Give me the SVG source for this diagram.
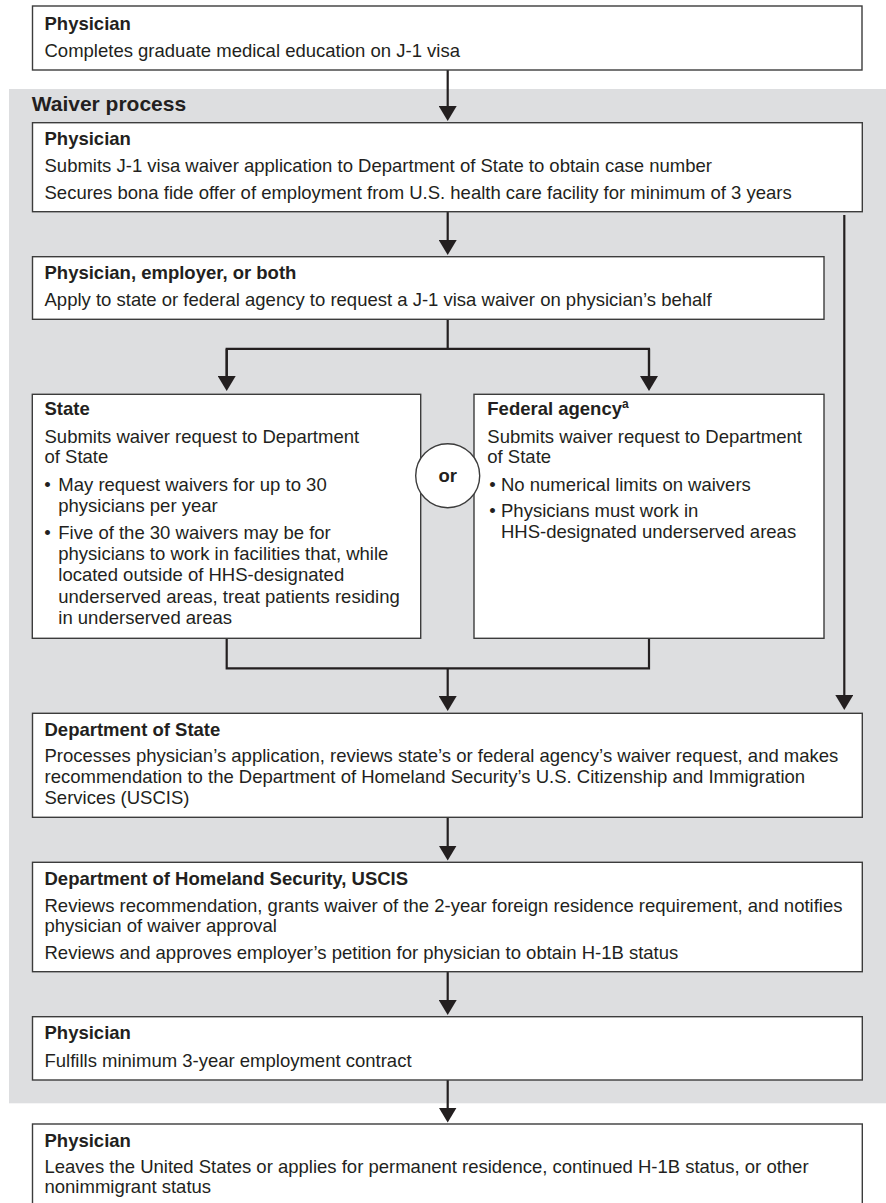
<svg xmlns="http://www.w3.org/2000/svg" width="886" height="1203" viewBox="0 0 886 1203">
<defs>
<style>
.bx{fill:#ffffff;stroke:#3c3c3c;stroke-width:1.4}
.t{font-family:"Liberation Sans",Arial,Helvetica,sans-serif;font-size:18.5px;fill:#231f20}
.b{font-weight:bold}
.h{font-family:"Liberation Sans",Arial,Helvetica,sans-serif;font-size:21px;font-weight:bold;fill:#231f20}
.c{fill:none;stroke:#231f20;stroke-width:2.2}
</style>
<marker id="ah" viewBox="0 0 15 18" refX="10" refY="9" markerWidth="15" markerHeight="18" markerUnits="userSpaceOnUse" orient="auto">
<path d="M0,0 L15,9 L0,18 z" fill="#231f20"/>
</marker>
</defs>
<rect x="0" y="0" width="886" height="1203" fill="#ffffff"/>
<g id="waiver-process">
<rect x="9" y="89" width="877" height="1014.3" fill="#dddee0"/>
<text class="h" x="31.7" y="111">Waiver process</text>
</g>
<g id="connectors">
<path class="c" d="M447.7,70 V116" marker-end="url(#ah)"/>
<path class="c" d="M447.7,211.7 V250" marker-end="url(#ah)"/>
<path class="c" d="M447.7,319.3 V348.8"/>
<path class="c" d="M226.7,386 V348.8 H649 V386"/>
<path class="c" d="M226.7,348.8 V386" marker-end="url(#ah)"/>
<path class="c" d="M649,348.8 V386" marker-end="url(#ah)"/>
<path class="c" d="M226.7,638.3 V668.3 H649 V638.3"/>
<path class="c" d="M447.7,668.3 V706" marker-end="url(#ah)"/>
<path class="c" d="M844.3,215 V705" marker-end="url(#ah)"/>
<path class="c" d="M447.7,817.3 V855.5" marker-end="url(#ah)"/>
<path class="c" d="M447.7,971.7 V1010" marker-end="url(#ah)"/>
<path class="c" d="M447.7,1080 V1117.5" marker-end="url(#ah)"/>
</g>
<g id="n1">
<rect class="bx" x="32.5" y="6" width="829.5" height="64"/>
<text class="t b" x="44.5" y="29.5">Physician</text>
<text class="t" x="44.5" y="56.7">Completes graduate medical education on J-1 visa</text>
</g>
<g id="n2">
<rect class="bx" x="32.5" y="122.7" width="829.8" height="89"/>
<text class="t b" x="44.5" y="145">Physician</text>
<text class="t" x="44.5" y="171.7">Submits J-1 visa waiver application to Department of State to obtain case number</text>
<text class="t" x="44.5" y="199">Secures bona fide offer of employment from U.S. health care facility for minimum of 3 years</text>
</g>
<g id="n3">
<rect class="bx" x="32.5" y="256.7" width="791.5" height="62.6"/>
<text class="t b" x="44.5" y="279">Physician, employer, or both</text>
<text class="t" x="44.5" y="306">Apply to state or federal agency to request a J-1 visa waiver on physician’s behalf</text>
</g>
<g id="state">
<rect class="bx" x="32.3" y="394.3" width="388.4" height="244"/>
<text class="t b" x="44.5" y="415">State</text>
<text class="t" x="44.5" y="442.7">Submits waiver request to Department</text>
<text class="t" x="44.5" y="463.3">of State</text>
<text class="t" x="44.3" y="490.7">•</text>
<text class="t" x="58.3" y="490.7">May request waivers for up to 30</text>
<text class="t" x="58.3" y="511.7">physicians per year</text>
<text class="t" x="44.3" y="539.3">•</text>
<text class="t" x="58.3" y="539.3">Five of the 30 waivers may be for</text>
<text class="t" x="58.3" y="560">physicians to work in facilities that, while</text>
<text class="t" x="58.3" y="581.3">located outside of HHS-designated</text>
<text class="t" x="58.3" y="602.7">underserved areas, treat patients residing</text>
<text class="t" x="58.3" y="624">in underserved areas</text>
</g>
<g id="federal">
<rect class="bx" x="474" y="394.3" width="350" height="244"/>
<text class="t b" x="487.3" y="415">Federal agency<tspan font-size="12" dy="-7">a</tspan></text>
<text class="t" x="487.3" y="442.7">Submits waiver request to Department</text>
<text class="t" x="487.3" y="463.3">of State</text>
<text class="t" x="489.3" y="490.7">•</text>
<text class="t" x="501" y="490.7">No numerical limits on waivers</text>
<text class="t" x="489.3" y="517.3">•</text>
<text class="t" x="501" y="517.3">Physicians must work in</text>
<text class="t" x="501" y="538.3">HHS-designated underserved areas</text>
</g>
<g id="or">
<circle class="bx" cx="447.7" cy="475.7" r="32"/>
<text class="t b" x="447.7" y="481.5" text-anchor="middle">or</text>
</g>
<g id="dos">
<rect class="bx" x="32.5" y="713.3" width="829.8" height="104"/>
<text class="t b" x="44.5" y="735.7">Department of State</text>
<text class="t" x="44.5" y="762.3">Processes physician’s application, reviews state’s or federal agency’s waiver request, and makes</text>
<text class="t" x="44.5" y="783.3">recommendation to the Department of Homeland Security’s U.S. Citizenship and Immigration</text>
<text class="t" x="44.5" y="804">Services (USCIS)</text>
</g>
<g id="dhs">
<rect class="bx" x="32.5" y="862.3" width="829.8" height="109.4"/>
<text class="t b" x="44.5" y="885">Department of Homeland Security, USCIS</text>
<text class="t" x="44.5" y="911.5">Reviews recommendation, grants waiver of the 2-year foreign residence requirement, and notifies</text>
<text class="t" x="44.5" y="932.3">physician of waiver approval</text>
<text class="t" x="44.5" y="959">Reviews and approves employer’s petition for physician to obtain H-1B status</text>
</g>
<g id="n-fulfill">
<rect class="bx" x="32.5" y="1016.7" width="829.8" height="63.3"/>
<text class="t b" x="44.5" y="1039.3">Physician</text>
<text class="t" x="44.5" y="1066.7">Fulfills minimum 3-year employment contract</text>
</g>
<g id="n-final">
<rect class="bx" x="32.5" y="1124" width="829.8" height="100"/>
<text class="t b" x="44.5" y="1146.7">Physician</text>
<text class="t" x="44.5" y="1173.3">Leaves the United States or applies for permanent residence, continued H-1B status, or other</text>
<text class="t" x="44.5" y="1193.3">nonimmigrant status</text>
</g>
</svg>
